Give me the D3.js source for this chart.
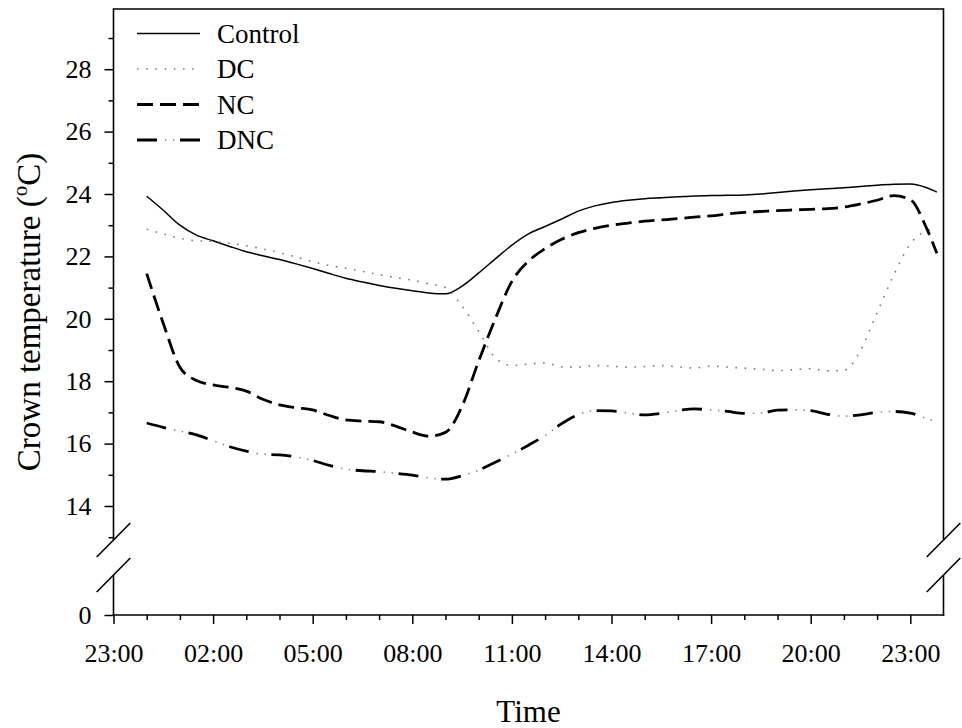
<!DOCTYPE html>
<html>
<head>
<meta charset="utf-8">
<script src="https://cdn.jsdelivr.net/npm/d3@7"></script>
<style>
  body { margin: 0; background: #fff; }
  svg { display: block; }
</style>
</head>
<body>
<svg id="chart" width="962" height="728"></svg>
<script>
// Hours elapsed since 23:00 on the first evening
const hours = [1, 1.5, 2, 2.5, 3, 3.5, 4, 4.5, 5, 5.5, 6, 6.5, 7, 7.5, 8, 8.5, 9, 9.5, 10, 10.5,
  11, 11.5, 12, 12.5, 13, 13.5, 14, 14.5, 15, 15.5, 16, 16.5, 17, 17.5, 18, 18.5, 19, 19.5, 20, 20.5,
  21, 21.5, 22, 22.5, 23, 23.5, 24, 24.5, 24.8];

// Crown temperature (°C) per treatment
const control = [23.93, 23.48, 23.0, 22.68, 22.5, 22.32, 22.15, 22.02, 21.9, 21.76, 21.61, 21.45, 21.3, 21.18, 21.07, 20.98, 20.9, 20.83, 20.8, 21.05,
  21.47, 21.92, 22.36, 22.72, 22.96, 23.2, 23.45, 23.62, 23.73, 23.8, 23.85, 23.88, 23.91, 23.94, 23.95, 23.96, 23.97, 24.0, 24.05, 24.1,
  24.14, 24.17, 24.2, 24.24, 24.28, 24.31, 24.32, 24.2, 24.06];
const dc = [22.87, 22.72, 22.58, 22.5, 22.48, 22.42, 22.34, 22.24, 22.12, 21.98, 21.83, 21.71, 21.62, 21.52, 21.42, 21.32, 21.24, 21.12, 21.0, 20.4,
  19.6, 18.75, 18.5, 18.55, 18.59, 18.46, 18.45, 18.5, 18.48, 18.45, 18.47, 18.5, 18.46, 18.42, 18.48, 18.45, 18.42, 18.38, 18.34, 18.37,
  18.4, 18.33, 18.35, 18.98, 20.2, 21.4, 22.4, 22.83, 22.9];
const nc = [21.45, 19.85, 18.45, 18.02, 17.88, 17.8, 17.68, 17.42, 17.24, 17.15, 17.08, 16.9, 16.76, 16.72, 16.7, 16.56, 16.37, 16.24, 16.36, 17.2,
  18.65, 20.0, 21.2, 21.85, 22.25, 22.55, 22.76, 22.9, 23.0, 23.07, 23.13, 23.17, 23.21, 23.26, 23.3, 23.36, 23.41, 23.44, 23.47, 23.49,
  23.51, 23.53, 23.58, 23.68, 23.8, 23.95, 23.82, 22.88, 22.1];
const dnc = [16.66, 16.52, 16.4, 16.28, 16.09, 15.9, 15.76, 15.66, 15.64, 15.57, 15.46, 15.3, 15.18, 15.13, 15.1, 15.05, 14.99, 14.9, 14.86, 14.97,
  15.15, 15.4, 15.66, 15.95, 16.26, 16.64, 16.93, 17.06, 17.05, 16.98, 16.92, 16.97, 17.06, 17.11, 17.08, 17.03, 16.97, 16.98, 17.07, 17.08,
  17.06, 16.94, 16.88, 16.92, 17.0, 17.03, 16.98, 16.8, 16.7];

const seriesNames = ["Control", "DC", "NC", "DNC"];

// Axis ticks
const xMajorTicks = [0, 3, 6, 9, 12, 15, 18, 21, 24];
const xTickLabels = ["23:00", "02:00", "05:00", "08:00", "11:00", "14:00", "17:00", "20:00", "23:00"];
const yMajorTicks = [14, 16, 18, 20, 22, 24, 26, 28];
const yMinorTicks = [13, 15, 17, 19, 21, 23, 25, 27, 29];

const serif = '"Liberation Serif", "Times New Roman", Times, serif';

// ---- layout ----
const plotLeft = 113.5, plotRight = 943.5, plotTop = 9, plotBottom = 615;
const breakUpper = 540, breakLower = 575;

const svg = d3.select("#chart").style("font-family", serif);

const x = d3.scaleLinear().domain([0, 25]).range([plotLeft, plotRight]);
const y = d3.scaleLinear().domain([13, 29.93]).range([537.2, plotTop]);
const yLow = d3.scaleLinear().domain([0, 1]).range([plotBottom, plotBottom - 38]);

const minorHours = d3.range(1, 25).filter(h => h % 3 !== 0);

// frame with a break on both vertical sides
const frame = svg.append("g").attr("stroke", "#000").attr("stroke-width", 1.6).attr("fill", "none");
frame.append("line").attr("x1", plotLeft).attr("x2", plotRight).attr("y1", plotTop).attr("y2", plotTop);
frame.append("line").attr("x1", plotLeft - 0.8).attr("x2", plotRight + 0.8).attr("y1", plotBottom).attr("y2", plotBottom);
[plotLeft, plotRight].forEach(xx => {
  frame.append("line").attr("x1", xx).attr("x2", xx).attr("y1", plotTop - 0.8).attr("y2", breakUpper);
  frame.append("line").attr("x1", xx).attr("x2", xx).attr("y1", breakLower).attr("y2", plotBottom + 0.8);
  [breakUpper, breakLower].forEach(cy => {
    frame.append("line")
      .attr("x1", xx - 16.8).attr("y1", cy + 17)
      .attr("x2", xx + 16.8).attr("y2", cy - 17);
  });
});

function styleAxis(g) {
  g.attr("font-family", serif).attr("font-size", 26);
  g.select(".domain").remove();
  g.selectAll(".tick line").attr("stroke", "#000").attr("stroke-width", 1.5);
  g.selectAll(".tick text").attr("fill", "#000").style("font-family", serif).style("font-size", "26px");
}

// y axis, upper segment
svg.append("g").attr("transform", `translate(${plotLeft},0)`)
  .call(d3.axisLeft(y).tickValues(yMajorTicks).tickSize(9).tickPadding(13).tickFormat(d3.format("d")))
  .call(styleAxis);
svg.append("g").attr("transform", `translate(${plotLeft},0)`)
  .call(d3.axisLeft(y).tickValues(yMinorTicks).tickSize(5).tickFormat(""))
  .call(styleAxis);
// y axis, lower segment (zero only)
svg.append("g").attr("transform", `translate(${plotLeft},0)`)
  .call(d3.axisLeft(yLow).tickValues([0]).tickSize(9).tickPadding(13).tickFormat(d3.format("d")))
  .call(styleAxis);

// x axis
svg.append("g").attr("transform", `translate(0,${plotBottom})`)
  .call(d3.axisBottom(x).tickValues(xMajorTicks).tickSize(9).tickPadding(20).tickFormat((d, i) => xTickLabels[i]))
  .call(styleAxis);
svg.append("g").attr("transform", `translate(0,${plotBottom})`)
  .call(d3.axisBottom(x).tickValues(minorHours).tickSize(5).tickFormat(""))
  .call(styleAxis);

// axis titles
svg.append("text")
  .attr("x", (plotLeft + plotRight) / 2).attr("y", 722)
  .attr("text-anchor", "middle")
  .style("font-family", serif).style("font-size", "31px")
  .text("Time");

const yTitle = svg.append("text")
  .attr("transform", "translate(40,312) rotate(-90)")
  .attr("text-anchor", "middle")
  .style("font-family", serif).style("font-size", "33px");
yTitle.append("tspan").text("Crown temperature (");
yTitle.append("tspan").style("font-size", "21px").attr("dy", -13).text("o");
yTitle.append("tspan").attr("dy", 13).text("C)");

// ---- series ----
const line = d3.line().x(d => x(d[0])).y(d => y(d[1])).curve(d3.curveMonotoneX);
const pts = vals => hours.map((h, i) => [h, vals[i]]);

const styles = {
  Control: [{ stroke: "#000", width: 1.5, dash: null }],
  DC: [{ stroke: "#7a7a7a", width: 1.6, dash: "1.6 7.6" }],
  NC: [{ stroke: "#000", width: 2.8, dash: "16 7" }],
  DNC: [
    { stroke: "#000", width: 2.8, dash: "20 23" },
    { stroke: "#8a8a8a", width: 1.6, dash: "1.5 6.5 1.5 33.5", offset: 15 }
  ]
};
const valuesBy = { Control: control, DC: dc, NC: nc, DNC: dnc };

const plot = svg.append("g");
seriesNames.forEach(name => {
  styles[name].forEach(s => {
    plot.append("path")
      .datum(pts(valuesBy[name]))
      .attr("d", line)
      .attr("fill", "none")
      .attr("stroke", s.stroke)
      .attr("stroke-width", s.width)
      .attr("stroke-dasharray", s.dash)
      .attr("stroke-dashoffset", s.offset || 0);
  });
});

// ---- legend ----
const legend = svg.append("g");
seriesNames.forEach((name, i) => {
  const ly = 33.5 + i * 35.5;
  styles[name].forEach(s => {
    legend.append("line")
      .attr("x1", 137).attr("x2", 200).attr("y1", ly).attr("y2", ly)
      .attr("stroke", s.stroke).attr("stroke-width", s.width)
      .attr("stroke-dasharray", s.dash)
      .attr("stroke-dashoffset", s.offset || 0);
  });
  legend.append("text")
    .attr("x", 217).attr("y", ly).attr("dy", "0.34em")
    .style("font-family", serif).style("font-size", "27px")
    .text(name);
});
</script>
</body>
</html>
